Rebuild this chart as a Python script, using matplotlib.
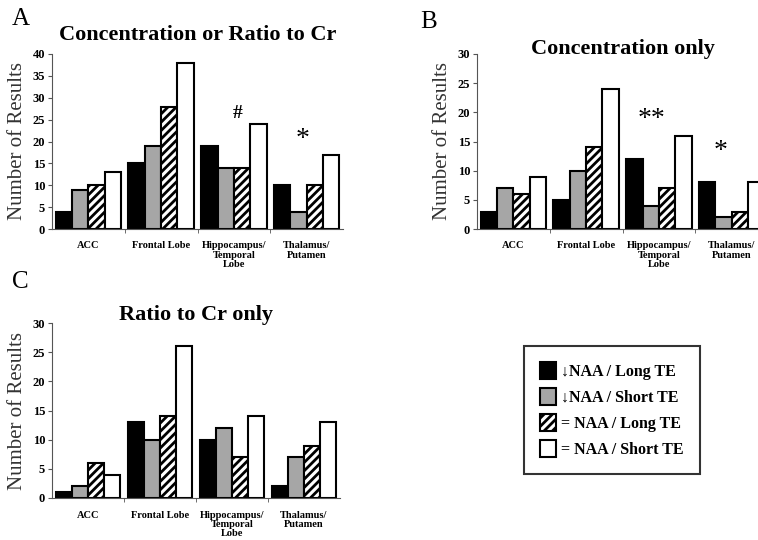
import numpy as np
import matplotlib
matplotlib.use("Agg")
import matplotlib.pyplot as plt
from matplotlib.patches import Patch

plt.rcParams['font.family'] = ['Liberation Serif', 'DejaVu Serif']
plt.rcParams['hatch.linewidth'] = 2.0

regions = ["ACC", "Frontal Lobe", "Hippocampus/\nTemporal\nLobe", "Thalamus/\nPutamen"]
series = ["\u2193NAA / Long TE", "\u2193NAA / Short TE", "= NAA / Long TE", "= NAA / Short TE"]

# values per series, one entry per region
conc_or_ratio = [[4, 15, 19, 10], [9, 19, 14, 4], [10, 28, 14, 10], [13, 38, 24, 17]]
conc_only = [[3, 5, 12, 8], [7, 10, 4, 2], [6, 14, 7, 3], [9, 24, 16, 8]]
ratio_only = [[1, 13, 10, 2], [2, 10, 12, 7], [6, 14, 7, 9], [4, 26, 14, 13]]

styles = [dict(color="black"), dict(color="#a6a6a6"),
          dict(color="white", hatch="////"), dict(color="white")]


def draw_panel(ax, data, ymax, title, letter, letter_xy, title_y, title_size):
    x = np.arange(len(regions))
    w = 0.225
    for i, vals in enumerate(data):
        ax.bar(x + (i - 1.5) * w, vals, w, edgecolor="black", linewidth=1.5,
               **styles[i])
    ax.set_xlim(-0.5, 3.5)
    ax.set_ylim(0, ymax)
    ax.set_yticks(np.arange(0, ymax + 1, 5))
    ax.set_xticks(x)
    ax.set_xticklabels(regions, fontsize=7.5, fontweight="bold", linespacing=1.05)
    ax.set_xticks([0.5, 1.5, 2.5], minor=True)
    ax.tick_params(axis="x", which="major", length=0, pad=9)
    ax.tick_params(axis="x", which="minor", length=3, color="#555555")
    ax.tick_params(axis="y", length=3, color="#555555", labelsize=9, pad=2)
    for lab in ax.get_yticklabels():
        lab.set_fontweight("bold")
    for s in ["top", "right"]:
        ax.spines[s].set_visible(False)
    for s in ["left", "bottom"]:
        ax.spines[s].set_color("#555555")
    ax.set_ylabel("Number of Results", fontsize=15, color="#333333", labelpad=4)
    ax.set_title(title, fontsize=title_size, fontweight="bold", y=title_y)
    fig.text(letter_xy[0], letter_xy[1], letter, fontsize=18, ha="left", va="center")


fig = plt.figure(figsize=(7.58, 5.40), dpi=100)

axA = fig.add_axes([52 / 758, 1 - 229 / 540, 291 / 758, 175 / 540])
draw_panel(axA, conc_or_ratio, 40, "Concentration or Ratio to Cr", "A",
           (12 / 758, 1 - 19 / 540), 1.03, 16)
axA.text(2.05, 26.5, "#", fontsize=14, fontweight="bold", ha="center", va="center")
axA.text(2.95, 20.5, "*", fontsize=20, ha="center", va="center")

axB = fig.add_axes([477 / 758, 1 - 229 / 540, 291 / 758, 175 / 540])
draw_panel(axB, conc_only, 30, "Concentration only", "B",
           (420 / 758, 1 - 22 / 540), 0.955, 16)
axB.text(1.9, 18.8, "**", fontsize=20, ha="center", va="center")
axB.text(2.85, 13.2, "*", fontsize=20, ha="center", va="center")

axC = fig.add_axes([52 / 758, 1 - 498 / 540, 288 / 758, 175 / 540])
draw_panel(axC, ratio_only, 30, "Ratio to Cr only", "C",
           (12 / 758, 1 - 282 / 540), 0.97, 16)

handles = [Patch(facecolor=styles[i]["color"], hatch=styles[i].get("hatch"),
                 edgecolor="black", linewidth=1.5) for i in range(4)]
leg = fig.legend(handles, series, loc="center", bbox_to_anchor=(612 / 758, 1 - 410 / 540),
                 frameon=True, fancybox=False, edgecolor="black", handlelength=1.0,
                 handleheight=1.3, handletextpad=0.3, borderpad=1.0, labelspacing=0.5,
                 prop=dict(family=['Liberation Serif', 'DejaVu Serif'], weight="bold", size=11.5))
leg.get_frame().set_linewidth(1.5)

fig.savefig("out.png", dpi=100)
